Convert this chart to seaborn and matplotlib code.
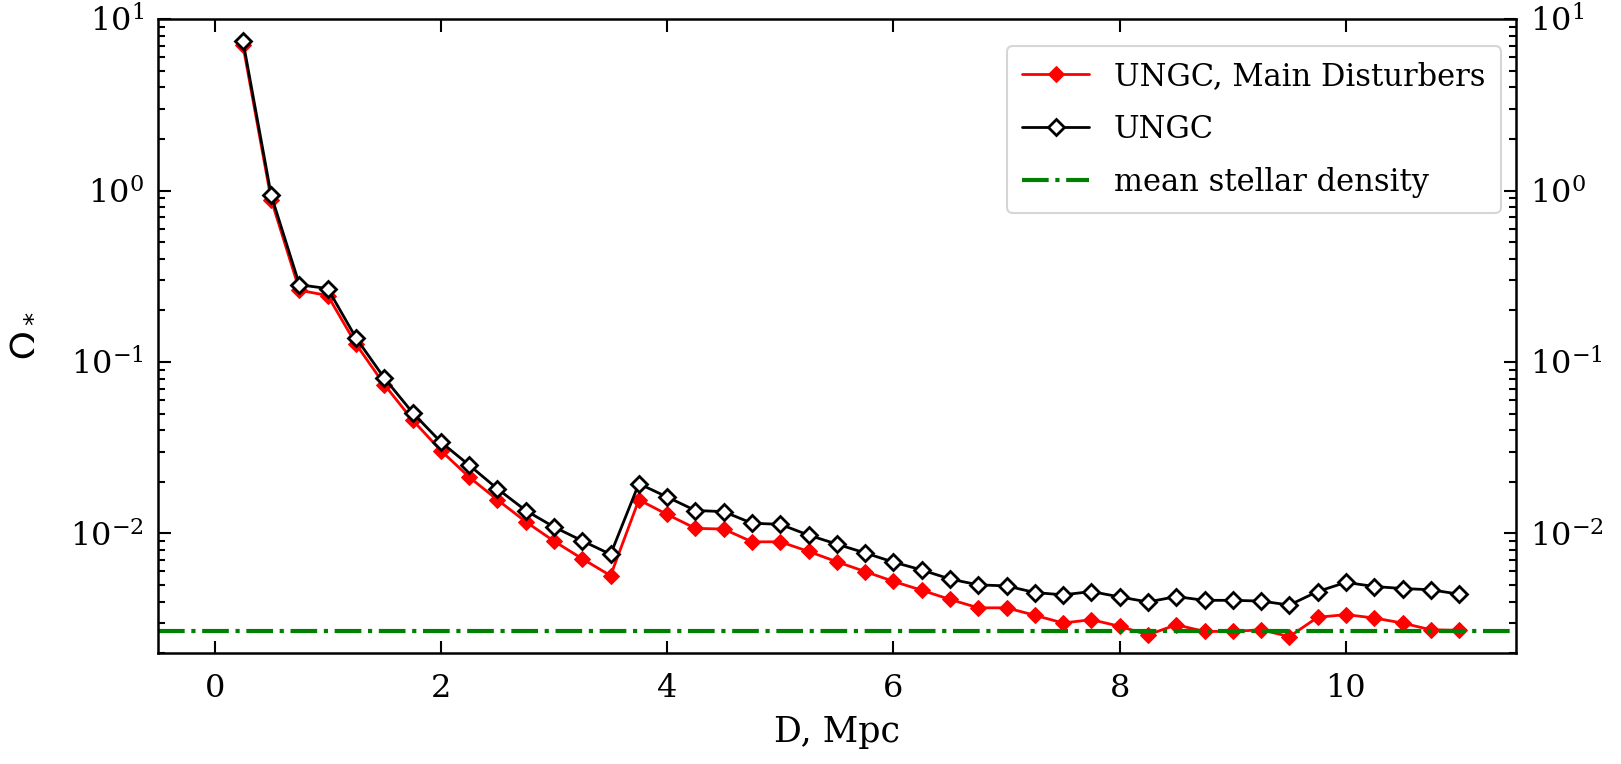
import numpy as np
import pandas as pd
import matplotlib
matplotlib.use("Agg")
import matplotlib.pyplot as plt
import seaborn as sns

# Distance bins (Mpc)
D = [0.25, 0.5, 0.75, 1.0, 1.25, 1.5, 1.75, 2.0, 2.25, 2.5, 2.75, 3.0,
     3.25, 3.5, 3.75, 4.0, 4.25, 4.5, 4.75, 5.0, 5.25, 5.5, 5.75, 6.0,
     6.25, 6.5, 6.75, 7.0, 7.25, 7.5, 7.75, 8.0, 8.25, 8.5, 8.75, 9.0,
     9.25, 9.5, 9.75, 10.0, 10.25, 10.5, 10.75, 11.0]

# Stellar density parameter, main disturbers only
omega_md = [7.06, 0.885, 0.262, 0.244, 0.127, 0.0738, 0.0458, 0.0304, 0.0213,
            0.0157, 0.0117, 0.00901, 0.00711, 0.00567, 0.0157, 0.0129, 0.0107,
            0.0106, 0.00893, 0.00893, 0.00785, 0.00683, 0.00599, 0.00525,
            0.00466, 0.00412, 0.00368, 0.00368, 0.00333, 0.00300, 0.00314,
            0.00287, 0.00256, 0.00293, 0.00268, 0.00268, 0.00274, 0.00250,
            0.00324, 0.00336, 0.00321, 0.00300, 0.00274, 0.00272]

# Stellar density parameter, full catalogue
omega_all = [7.5, 0.94, 0.282, 0.268, 0.138, 0.0806, 0.0506, 0.0341, 0.0250,
             0.0182, 0.0136, 0.0109, 0.00905, 0.00755, 0.0195, 0.0163, 0.0136,
             0.0134, 0.01146, 0.0113, 0.00977, 0.00866, 0.00769, 0.00680,
             0.00612, 0.00542, 0.00501, 0.00494, 0.00452, 0.00438, 0.00458,
             0.00426, 0.00398, 0.00428, 0.00407, 0.00407, 0.00403, 0.00382,
             0.00458, 0.00518, 0.00490, 0.00477, 0.00469, 0.00442]

mean_density = 0.0027

labels = ["UNGC, Main Disturbers", "UNGC", "mean stellar density"]

sns.set_style("ticks")
plt.rcParams["font.family"] = ["DejaVu Serif"]
plt.rcParams["mathtext.fontset"] = "dejavuserif"
for key in ["text.color", "axes.labelcolor", "xtick.color", "ytick.color",
            "axes.edgecolor"]:
    plt.rcParams[key] = "black"

df = pd.DataFrame({"D": D, "md": omega_md, "all": omega_all})

fig = plt.figure(figsize=(16.21, 7.64), dpi=100)
ax = fig.add_axes([0.0975, 0.145, 0.8375, 0.83])

sns.lineplot(data=df, x="D", y="md", ax=ax, color="red", marker="D",
             markersize=8, markerfacecolor="red", markeredgecolor="red",
             linewidth=2, label=labels[0])
sns.lineplot(data=df, x="D", y="all", ax=ax, color="black", marker="D",
             markersize=8, markerfacecolor="white", markeredgecolor="black",
             markeredgewidth=2, linewidth=2, label=labels[1])
ax.axhline(mean_density, color="green", linestyle="-.", linewidth=3,
           label=labels[2])

ax.set_yscale("log")
ax.set_xlim(-0.5, 11.5)
ax.set_ylim(2e-3, 10)
ax.set_xticks([0, 2, 4, 6, 8, 10])

ax.tick_params(which="both", direction="in", top=True, right=True,
               labelright=True, labelsize=23, width=1.5)
ax.tick_params(which="major", length=9)
ax.tick_params(which="minor", length=5)
ax.tick_params(axis="x", which="major", pad=14)
ax.tick_params(axis="y", which="major", pad=10)
for s in ax.spines.values():
    s.set_linewidth(1.8)

ax.set_xlabel("D, Mpc", fontsize=25, labelpad=8)
ax.set_ylabel(r"$\Omega_*$", fontsize=27, math_fontfamily="dejavusans",
              labelpad=22)

leg = ax.legend(loc="upper right", bbox_to_anchor=(0.998, 0.977),
                borderaxespad=0.4, fontsize=22, frameon=True, fancybox=True,
                handlelength=2.2, borderpad=0.5, labelspacing=0.72)
leg.get_frame().set_edgecolor("#cccccc")
leg.get_frame().set_linewidth(1.5)

fig.savefig("out.png", dpi=100)
